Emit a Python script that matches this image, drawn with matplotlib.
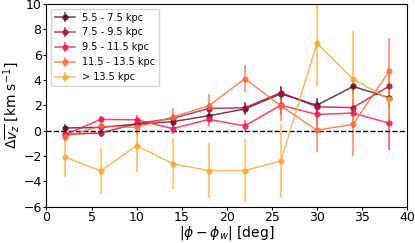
import matplotlib
matplotlib.use('Agg')
import matplotlib.pyplot as plt

phi = [2, 6, 10, 14, 18, 22, 26, 30, 34, 38]

labels = ['5.5 - 7.5 kpc', '7.5 - 9.5 kpc', '9.5 - 11.5 kpc',
          '11.5 - 13.5 kpc', '> 13.5 kpc']
colors = ['#5b0a22', '#a5123f', '#f5174f', '#ff6c3a', '#ffa73a']

dvz_1 = [0.2, 0.25, 0.5, 0.7, 1.17, 1.7, 2.9, 2.0, 3.48, 2.6]
err_1 = [0.3, 0.3, 0.3, 0.35, 0.4, 0.5, 0.5, 0.6, 0.7, 0.8]
dvz_2 = [-0.3, -0.2, 0.55, 0.96, 1.74, 1.8, 3.0, 1.87, 1.81, 3.5]
err_2 = [0.3, 0.3, 0.35, 0.35, 0.4, 0.45, 0.5, 0.6, 0.7, 0.9]
dvz_3 = [-0.35, 0.88, 0.85, 0.15, 0.88, 0.37, 2.0, 1.27, 1.38, 0.58]
err_3 = [0.3, 0.3, 0.35, 0.4, 0.5, 0.5, 0.8, 1.0, 1.2, 2.1]
dvz_4 = [-0.5, 0.35, 0.25, 1.07, 1.95, 4.1, 1.95, 0.03, 0.49, 4.67]
err_4 = [0.4, 0.5, 0.6, 0.7, 0.9, 1.05, 1.2, 1.75, 2.5, 2.6]
dvz_5 = [-2.07, -3.2, -1.19, -2.62, -3.16, -3.16, -2.41, 6.9, 4.07, 2.47]
err_5 = [1.6, 1.8, 2.05, 2.0, 2.15, 2.5, 2.9, 3.5, 3.76, 2.2]

dvz = [dvz_1, dvz_2, dvz_3, dvz_4, dvz_5]
errs = [err_1, err_2, err_3, err_4, err_5]

fig, ax = plt.subplots(figsize=(4.15, 2.43), dpi=100)
fig.subplots_adjust(left=0.112, right=0.981, bottom=0.15, top=0.984)

for y, e, c, lab in zip(dvz, errs, colors, labels):
    ax.errorbar(phi, y, yerr=e, color=c, marker='o', ms=3.5, lw=1.1,
                elinewidth=1.1, alpha=0.8, label=lab)

ax.axhline(0, color='k', ls='--', lw=1)
ax.set_xlim(0, 40)
ax.set_ylim(-6, 10)
ax.set_xticks(range(0, 41, 5))
ax.set_yticks(range(-6, 11, 2))
ax.set_xlabel(r'$|\phi - \phi_w|$ [deg]', fontsize=10, labelpad=0)
ax.set_ylabel(r'$\Delta\overline{v_z}$ [km s$^{-1}$]', fontsize=10, labelpad=0)
ax.tick_params(labelsize=9, length=2, pad=1.5)
ax.legend(loc='upper left', fontsize=7)

fig.savefig('out.png')
